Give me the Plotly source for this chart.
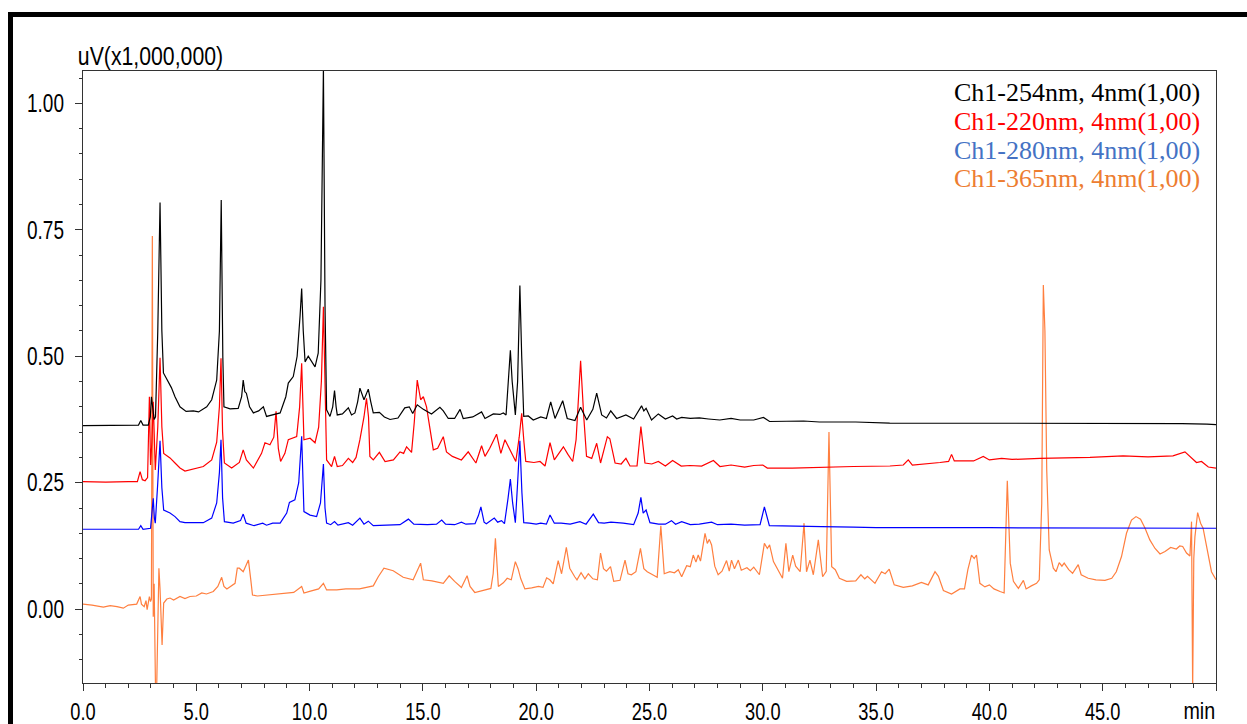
import plotly.graph_objects as go

# ---------------- data (min, uV x1,000,000) ----------------
t_254 = [0.0, 1.0, 2.0, 2.45, 2.55, 2.65, 2.88, 2.97, 3.02, 3.07, 3.14, 3.20, 3.30, 3.40, 3.48, 3.55,
         3.72, 3.90, 4.06, 4.28, 4.55, 4.87, 5.10, 5.30, 5.46, 5.68, 5.90, 6.02, 6.10, 6.17, 6.22, 6.49,
         6.85, 7.00, 7.07, 7.14, 7.21, 7.35, 7.52, 7.75, 7.96, 8.10, 8.40, 8.70, 8.95, 9.06, 9.28, 9.45,
         9.58, 9.65, 9.72, 9.80, 9.94, 10.10, 10.24, 10.38, 10.50, 10.61, 10.68, 10.75, 10.90, 11.02,
         11.10, 11.17, 11.22, 11.45, 11.71, 11.85, 12.00, 12.12, 12.22, 12.40, 12.59, 12.70, 12.81,
         13.08, 13.30, 13.55, 13.90, 14.20, 14.40, 14.55, 14.75, 15.02, 15.38, 15.75, 15.90, 16.12,
         16.40, 16.64, 16.78, 17.20, 17.59, 17.74, 18.11, 18.40, 18.55, 18.67, 18.78, 18.86, 18.94,
         19.08, 19.18, 19.28, 19.36, 19.45, 19.65, 19.87, 20.20, 20.45, 20.64, 20.83, 21.17, 21.37,
         21.71, 21.96, 22.23, 22.50, 22.67, 22.89, 23.10, 23.29, 23.55, 23.96, 24.30, 24.65, 24.75,
         24.85, 25.09, 25.39, 25.70, 26.02, 26.20, 26.42, 26.80, 27.20, 27.60, 28.10, 28.60, 29.00,
         29.60, 30.03, 30.30, 31.00, 31.80, 32.50, 34.10, 35.60, 38.00, 40.00, 42.00, 44.00, 46.00,
         48.50, 49.60, 50.00]
v_254 = [0.363, 0.363, 0.363, 0.364, 0.373, 0.364, 0.364, 0.380, 0.420, 0.395, 0.375, 0.380, 0.550, 0.804, 0.550, 0.467,
         0.453, 0.438, 0.420, 0.400, 0.391, 0.392, 0.390, 0.395, 0.400, 0.414, 0.453, 0.550, 0.809, 0.500, 0.400, 0.396,
         0.397, 0.420, 0.453, 0.430, 0.427, 0.400, 0.388, 0.392, 0.400, 0.381, 0.384, 0.388, 0.420, 0.447, 0.460, 0.500,
         0.580, 0.634, 0.550, 0.489, 0.500, 0.488, 0.479, 0.506, 0.650, 1.070, 0.600, 0.394, 0.381, 0.400,
         0.432, 0.400, 0.384, 0.386, 0.398, 0.384, 0.388, 0.410, 0.437, 0.414, 0.435, 0.410, 0.388,
         0.389, 0.380, 0.375, 0.378, 0.398, 0.400, 0.387, 0.404, 0.395, 0.386, 0.399, 0.392, 0.377,
         0.377, 0.395, 0.377, 0.380, 0.390, 0.377, 0.386, 0.385, 0.388, 0.384, 0.460, 0.512, 0.450,
         0.384, 0.450, 0.640, 0.500, 0.381, 0.382, 0.374, 0.380, 0.377, 0.410, 0.377, 0.412, 0.377,
         0.373, 0.399, 0.374, 0.395, 0.427, 0.384, 0.378, 0.392, 0.377, 0.384, 0.376, 0.402, 0.392,
         0.397, 0.374, 0.386, 0.376, 0.382, 0.376, 0.379, 0.377, 0.378, 0.376, 0.374, 0.377, 0.374,
         0.374, 0.379, 0.371, 0.371, 0.372, 0.370, 0.370, 0.368, 0.368, 0.368, 0.368, 0.367, 0.367,
         0.367, 0.366, 0.365]

t_220 = [0.0, 1.0, 2.0, 2.40, 2.52, 2.62, 2.74, 2.85, 2.93, 2.98, 3.04, 3.10, 3.19, 3.30, 3.40, 3.48,
         3.56, 3.84, 4.06, 4.28, 4.50, 4.87, 5.31, 5.68, 5.90, 6.02, 6.09, 6.16, 6.24, 6.56, 6.90, 7.07,
         7.21, 7.52, 7.88, 8.03, 8.25, 8.42, 8.52, 8.62, 8.72, 8.91, 9.06, 9.43, 9.56, 9.65, 9.70, 9.75,
         10.02, 10.24, 10.40, 10.52, 10.61, 10.68, 10.75, 10.97, 11.10, 11.22, 11.45, 11.71, 11.90,
         12.05, 12.22, 12.40, 12.51, 12.60, 12.66, 12.81, 13.08, 13.33, 13.70, 13.99, 14.15, 14.28,
         14.50, 14.62, 14.75, 14.90, 15.02, 15.16, 15.46, 15.65, 15.90, 16.04, 16.30, 16.70, 17.00,
         17.34, 17.59, 17.74, 17.95, 18.25, 18.44, 18.62, 18.81, 19.10, 19.25, 19.36, 19.46, 19.54,
         19.90, 20.17, 20.39, 20.61, 20.80, 21.20, 21.40, 21.61, 21.76, 21.96, 22.10, 22.22, 22.45,
         22.67, 22.84, 23.14, 23.25, 23.48, 23.75, 23.96, 24.14, 24.45, 24.62, 24.75, 24.80, 25.10,
         25.39, 25.70, 26.02, 26.40, 26.79, 27.30, 27.82, 28.11, 28.60, 29.20, 29.60, 30.00, 30.20,
         31.30, 32.67, 34.00, 35.61, 36.20, 36.42, 36.60, 37.82, 38.20, 38.33, 38.45, 39.30, 39.73,
         40.00, 40.54, 41.00, 42.23, 44.44, 45.90, 47.00, 48.10, 48.63, 49.14, 49.36, 49.66, 50.00]
v_220 = [0.252, 0.251, 0.252, 0.252, 0.272, 0.256, 0.254, 0.260, 0.420, 0.285, 0.330, 0.410, 0.275, 0.360, 0.497, 0.360,
         0.308, 0.299, 0.289, 0.279, 0.273, 0.277, 0.282, 0.295, 0.330, 0.400, 0.496, 0.350, 0.289, 0.279, 0.290, 0.315,
         0.295, 0.279, 0.308, 0.329, 0.325, 0.340, 0.391, 0.318, 0.292, 0.308, 0.335, 0.341, 0.400, 0.486, 0.380, 0.335,
         0.338, 0.329, 0.360, 0.450, 0.598, 0.400, 0.295, 0.282, 0.302, 0.282, 0.284, 0.298, 0.290,
         0.300, 0.335, 0.380, 0.417, 0.380, 0.302, 0.295, 0.310, 0.292, 0.295, 0.311, 0.308, 0.321,
         0.310, 0.370, 0.453, 0.414, 0.420, 0.400, 0.315, 0.318, 0.341, 0.311, 0.302, 0.295, 0.311,
         0.289, 0.323, 0.302, 0.318, 0.346, 0.308, 0.335, 0.318, 0.292, 0.340, 0.387, 0.330, 0.292,
         0.290, 0.292, 0.283, 0.329, 0.295, 0.321, 0.306, 0.292, 0.335, 0.491, 0.380, 0.302, 0.298,
         0.328, 0.289, 0.341, 0.337, 0.289, 0.287, 0.298, 0.283, 0.283, 0.361, 0.300, 0.289, 0.287,
         0.292, 0.283, 0.294, 0.283, 0.284, 0.283, 0.294, 0.282, 0.285, 0.281, 0.284, 0.285, 0.279,
         0.279, 0.281, 0.282, 0.283, 0.285, 0.295, 0.285, 0.290, 0.292, 0.306, 0.293, 0.293, 0.302,
         0.295, 0.298, 0.296, 0.298, 0.300, 0.303, 0.301, 0.303, 0.311, 0.290, 0.292, 0.281, 0.279]

t_280 = [0.0, 2.0, 2.45, 2.55, 2.65, 2.98, 3.05, 3.10, 3.15, 3.19, 3.30, 3.40, 3.48, 3.56, 3.84, 4.06,
         4.28, 4.50, 5.31, 5.68, 5.90, 6.02, 6.09, 6.16, 6.24, 6.63, 6.95, 7.07, 7.20, 7.55, 7.93, 8.10,
         8.37, 8.70, 8.99, 9.11, 9.35, 9.52, 9.65, 9.71, 9.75, 10.02, 10.31, 10.48, 10.61, 10.68, 10.75,
         10.93, 11.10, 11.25, 11.71, 11.90, 12.22, 12.40, 12.59, 12.81, 13.50, 13.99, 14.36, 14.60,
         15.20, 15.60, 15.83, 16.00, 16.40, 16.70, 16.90, 17.30, 17.45, 17.56, 17.70, 17.80, 18.15,
         18.30, 18.47, 18.60, 18.76, 18.86, 18.96, 19.08, 19.18, 19.28, 19.37, 19.45, 19.70, 20.00,
         20.20, 20.45, 20.61, 20.80, 21.10, 21.50, 21.93, 22.20, 22.52, 22.75, 23.00, 23.30, 23.84,
         24.30, 24.50, 24.62, 24.72, 24.85, 25.02, 25.40, 25.70, 25.97, 26.15, 26.42, 26.80, 27.20,
         27.74, 28.00, 28.60, 29.20, 29.88, 30.07, 30.29, 31.00, 31.64, 32.60, 34.00, 35.00, 40.00,
         45.00, 50.00]
v_280 = [0.158, 0.158, 0.158, 0.165, 0.158, 0.160, 0.190, 0.219, 0.180, 0.170, 0.250, 0.333, 0.240, 0.196, 0.190, 0.183,
         0.173, 0.171, 0.171, 0.180, 0.210, 0.270, 0.335, 0.220, 0.173, 0.170, 0.175, 0.188, 0.170, 0.165, 0.170, 0.166,
         0.170, 0.170, 0.190, 0.211, 0.216, 0.250, 0.342, 0.240, 0.193, 0.186, 0.183, 0.210, 0.287, 0.200, 0.170,
         0.167, 0.173, 0.166, 0.171, 0.166, 0.180, 0.168, 0.174, 0.165, 0.166, 0.167, 0.178, 0.168,
         0.167, 0.168, 0.176, 0.168, 0.167, 0.172, 0.168, 0.169, 0.185, 0.202, 0.172, 0.169, 0.180,
         0.172, 0.175, 0.169, 0.220, 0.257, 0.210, 0.171, 0.250, 0.333, 0.230, 0.171, 0.170, 0.168,
         0.170, 0.168, 0.186, 0.170, 0.170, 0.168, 0.173, 0.168, 0.188, 0.171, 0.170, 0.172, 0.170,
         0.167, 0.190, 0.221, 0.190, 0.196, 0.171, 0.168, 0.168, 0.175, 0.168, 0.173, 0.167, 0.168,
         0.172, 0.167, 0.168, 0.166, 0.167, 0.202, 0.165, 0.164, 0.163, 0.163, 0.162, 0.161, 0.161,
         0.160, 0.160]

t_365 = [0.0, 0.4, 0.9, 1.2, 1.5, 1.78, 2.0, 2.37, 2.52, 2.58, 2.70, 2.78, 2.83, 2.93, 2.98, 3.02,
         3.06, 3.10, 3.14, 3.20, 3.25, 3.29, 3.35, 3.40, 3.49, 3.56, 3.70, 3.84, 4.00, 4.28, 4.50, 4.72,
         5.00, 5.24, 5.45, 5.75, 5.95, 6.12, 6.22, 6.35, 6.71, 6.81, 6.90, 7.07, 7.30, 7.40, 7.48, 7.70,
         8.10, 8.50, 9.00, 9.30, 9.65, 9.75, 10.00, 10.40, 10.61, 10.75, 11.20, 11.60, 12.20, 12.50,
         12.81, 13.03, 13.28, 13.69, 14.13, 14.57, 14.72, 14.90, 15.02, 15.40, 15.90, 16.16, 16.40,
         16.70, 16.95, 17.08, 17.29, 17.70, 18.00, 18.10, 18.20, 18.33, 18.55, 18.72, 18.90, 19.08,
         19.20, 19.32, 19.50, 19.80, 20.10, 20.30, 20.46, 20.60, 20.75, 20.97, 21.12, 21.33, 21.48,
         21.70, 21.80, 21.98, 22.15, 22.30, 22.50, 22.70, 22.84, 22.97, 23.10, 23.28, 23.42, 23.70,
         23.92, 24.05, 24.20, 24.40, 24.60, 24.75, 24.90, 25.10, 25.34, 25.50, 25.65, 25.90, 26.10,
         26.27, 26.42, 26.64, 26.80, 26.93, 27.05, 27.15, 27.25, 27.45, 27.55, 27.64, 27.74, 27.88,
         28.03, 28.20, 28.40, 28.52, 28.62, 28.75, 28.92, 29.05, 29.30, 29.45, 29.60, 29.85, 30.07,
         30.20, 30.30, 30.47, 30.65, 30.87, 31.02, 31.15, 31.32, 31.45, 31.65, 31.82, 31.93, 32.08,
         32.23, 32.45, 32.64, 32.80, 32.92, 33.04, 33.20, 33.38, 33.70, 34.10, 34.33, 34.50, 34.62,
         34.95, 35.24, 35.40, 35.58, 35.80, 36.20, 36.60, 37.00, 37.30, 37.60, 37.75, 37.97, 38.33,
         38.70, 38.90, 39.05, 39.21, 39.33, 39.43, 39.58, 39.80, 40.00, 40.20, 40.47, 40.65, 40.79,
         40.92, 41.06, 41.28, 41.50, 41.62, 41.85, 42.08, 42.20, 42.31, 42.38, 42.45, 42.53, 42.64,
         42.82, 42.94, 43.08, 43.20, 43.30, 43.50, 43.67, 43.92, 44.05, 44.36, 44.70, 45.10, 45.40,
         45.60, 45.83, 46.05, 46.27, 46.47, 46.67, 46.87, 47.08, 47.31, 47.53, 47.75, 48.00, 48.25,
         48.40, 48.53, 48.70, 48.85, 48.92, 48.97, 49.02, 49.07, 49.19, 49.32, 49.43, 49.66, 49.80,
         50.00]
v_365 = [0.010, 0.008, 0.004, 0.007, 0.005, 0.002, 0.008, 0.010, 0.025, 0.010, 0.005, 0.017, -0.001, 0.025, 0.015, 0.020,
         0.738, -0.015, 0.050, -0.160, -0.160, -0.080, 0.081, 0.040, -0.071, 0.012, 0.020, 0.022, 0.018, 0.025, 0.021, 0.025,
         0.026, 0.032, 0.030, 0.035, 0.045, 0.063, 0.045, 0.040, 0.051, 0.081, 0.081, 0.074, 0.097, 0.060, 0.028, 0.026,
         0.028, 0.030, 0.032, 0.033, 0.045, 0.032, 0.035, 0.040, 0.051, 0.038, 0.038, 0.040, 0.040, 0.043,
         0.046, 0.064, 0.081, 0.076, 0.063, 0.058, 0.074, 0.091, 0.058, 0.056, 0.051, 0.066, 0.055,
         0.043, 0.066, 0.045, 0.033, 0.038, 0.041, 0.070, 0.140, 0.045, 0.052, 0.061, 0.058, 0.094,
         0.080, 0.060, 0.040, 0.042, 0.045, 0.043, 0.062, 0.058, 0.050, 0.096, 0.070, 0.122, 0.081,
         0.064, 0.058, 0.072, 0.060, 0.070, 0.060, 0.058, 0.111, 0.080, 0.075, 0.084, 0.055, 0.057,
         0.097, 0.070, 0.068, 0.074, 0.120, 0.080, 0.074, 0.069, 0.063, 0.165, 0.070, 0.074, 0.072,
         0.078, 0.064, 0.086, 0.084, 0.107, 0.093, 0.107, 0.095, 0.150, 0.130, 0.138, 0.127, 0.085,
         0.068, 0.075, 0.096, 0.075, 0.097, 0.080, 0.097, 0.077, 0.082, 0.076, 0.083, 0.068, 0.130,
         0.120, 0.127, 0.094, 0.080, 0.061, 0.130, 0.074, 0.107, 0.085, 0.074, 0.170, 0.074, 0.097,
         0.068, 0.137, 0.064, 0.075, 0.350, 0.084, 0.078, 0.061, 0.055, 0.056, 0.068, 0.060, 0.065,
         0.051, 0.074, 0.070, 0.079, 0.048, 0.043, 0.046, 0.053, 0.048, 0.074, 0.065, 0.037, 0.030,
         0.040, 0.040, 0.078, 0.107, 0.100, 0.107, 0.051, 0.044, 0.048, 0.040, 0.035, 0.032, 0.254,
         0.091, 0.055, 0.041, 0.057, 0.040, 0.046, 0.051, 0.058, 0.209, 0.641, 0.550, 0.275, 0.117,
         0.081, 0.074, 0.092, 0.085, 0.091, 0.078, 0.071, 0.088, 0.068, 0.061, 0.058, 0.057, 0.061,
         0.074, 0.104, 0.150, 0.176, 0.183, 0.178, 0.160, 0.137, 0.120, 0.109, 0.114, 0.122, 0.119,
         0.125, 0.124, 0.111, 0.105, 0.173, -0.160, 0.100, 0.143, 0.191, 0.170, 0.160, 0.104, 0.074,
         0.058]

series_names = ["Ch1-254nm, 4nm(1,00)", "Ch1-220nm, 4nm(1,00)",
                "Ch1-280nm, 4nm(1,00)", "Ch1-365nm, 4nm(1,00)"]
x_tick_vals = [0, 5, 10, 15, 20, 25, 30, 35, 40, 45, 50]
x_tick_text = ["0.0", "5.0", "10.0", "15.0", "20.0", "25.0", "30.0", "35.0", "40.0", "45.0", ""]
y_tick_vals = [0.0, 0.25, 0.5, 0.75, 1.0]
y_tick_text = ["0.00", "0.25", "0.50", "0.75", "1.00"]

# ---------------- styles ----------------
line_colors = ["#000000", "#ff0000", "#0000ff", "#ff7f3f"]
label_colors = ["#000000", "#ff0000", "#4472c4", "#ed7d31"]
sans = "Liberation Sans, Arial, sans-serif"
serif = "Liberation Serif, Times New Roman, serif"

W, H = 1247, 724
ML, MR, MT, MB = 83, 31, 71, 41
PW, PH = W - ML - MR, H - MT - MB

def px_x(px):
    return (px - ML) / PW

def px_y(py):
    return (H - MB - py) / PH

fig = go.Figure()
series = [(t_365, v_365), (t_280, v_280), (t_220, v_220), (t_254, v_254)]
order = [3, 2, 1, 0]
for (tt, vv), idx in zip(series, order):
    fig.add_trace(go.Scatter(x=tt, y=vv, mode="lines", name=series_names[idx],
                             line=dict(color=line_colors[idx], width=1.2),
                             showlegend=False, hoverinfo="skip"))

axis_col = "#333333"
fig.update_xaxes(range=[0, 50], showgrid=False, zeroline=False, automargin=False,
                 showline=True, linecolor=axis_col, linewidth=1, mirror=True,
                 tickmode="array", tickvals=x_tick_vals, ticktext=x_tick_text,
                 ticks="outside", ticklen=7, tickwidth=1, tickcolor=axis_col,
                 ticklabelstandoff=0,
                 tickfont=dict(family=sans, size=24, color="#000000"),
                 minor=dict(dtick=1, tick0=0, ticks="outside", ticklen=4,
                            tickwidth=1, tickcolor=axis_col, showgrid=False))
fig.update_yaxes(range=[-0.146, 1.064], showgrid=False, zeroline=False, automargin=False,
                 showline=True, linecolor=axis_col, linewidth=1, mirror=True,
                 tickmode="array", tickvals=y_tick_vals, ticktext=y_tick_text,
                 ticks="outside", ticklen=7, tickwidth=1, tickcolor=axis_col,
                 ticklabelstandoff=6,
                 tickfont=dict(family=sans, size=25, color="#000000"),
                 minor=dict(dtick=0.05, tick0=0, ticks="outside", ticklen=3.5,
                            tickwidth=1, tickcolor=axis_col, showgrid=False))

annotations = [
    dict(text="uV(x1,000,000)", xref="paper", yref="paper", x=px_x(150), y=px_y(72),
         xanchor="center", yanchor="bottom", showarrow=False,
         font=dict(family=sans, size=25, color="#000000")),
    dict(text="min", xref="paper", yref="paper", x=px_x(1199), y=px_y(710),
         xanchor="center", yanchor="middle", showarrow=False,
         font=dict(family=sans, size=24, color="#000000")),
]
legend_y = [92.7, 121.7, 150.0, 178.3]
for name, col, py in zip(series_names, label_colors, legend_y):
    annotations.append(dict(text=name, xref="paper", yref="paper", x=px_x(1202), y=px_y(py),
                            xanchor="right", yanchor="middle", showarrow=False,
                            font=dict(family=serif, size=26, color=col)))

fig.update_layout(
    width=W, height=H,
    margin=dict(l=ML, r=MR, t=MT, b=MB, pad=0, autoexpand=False),
    paper_bgcolor="white", plot_bgcolor="white",
    showlegend=False,
    annotations=annotations,
    shapes=[dict(type="rect", xref="paper", yref="paper",
                 x0=px_x(10.5), x1=px_x(1290), y0=px_y(780), y1=px_y(14.5),
                 line=dict(color="#000000", width=5), fillcolor="rgba(0,0,0,0)", layer="above")],
)

# The reference uses a condensed sans face for the axis text; squeeze the glyphs horizontally.
post_js = """
(function(){
  var gd = document.getElementById('{plot_id}');
  function sq(t, k){
    if (t.getAttribute('data-sq')) return;
    var w = t.getComputedTextLength();
    if (w > 0) {
      t.setAttribute('textLength', (w * k).toFixed(2));
      t.setAttribute('lengthAdjust', 'spacingAndGlyphs');
      t.setAttribute('data-sq', '1');
    }
  }
  function squeeze(){
    gd.querySelectorAll('.xtick text, .ytick text').forEach(function(t){ sq(t, 0.76); });
    gd.querySelectorAll('.annotation-text').forEach(function(t){
      var s = t.textContent;
      if (s.indexOf('uV') === 0) sq(t, 0.85);
      else if (s === 'min') sq(t, 0.82);
    });
  }
  squeeze();
  if (gd.on) gd.on('plotly_afterplot', squeeze);
})();
"""

fig.write_html("out.html", post_script=post_js)
